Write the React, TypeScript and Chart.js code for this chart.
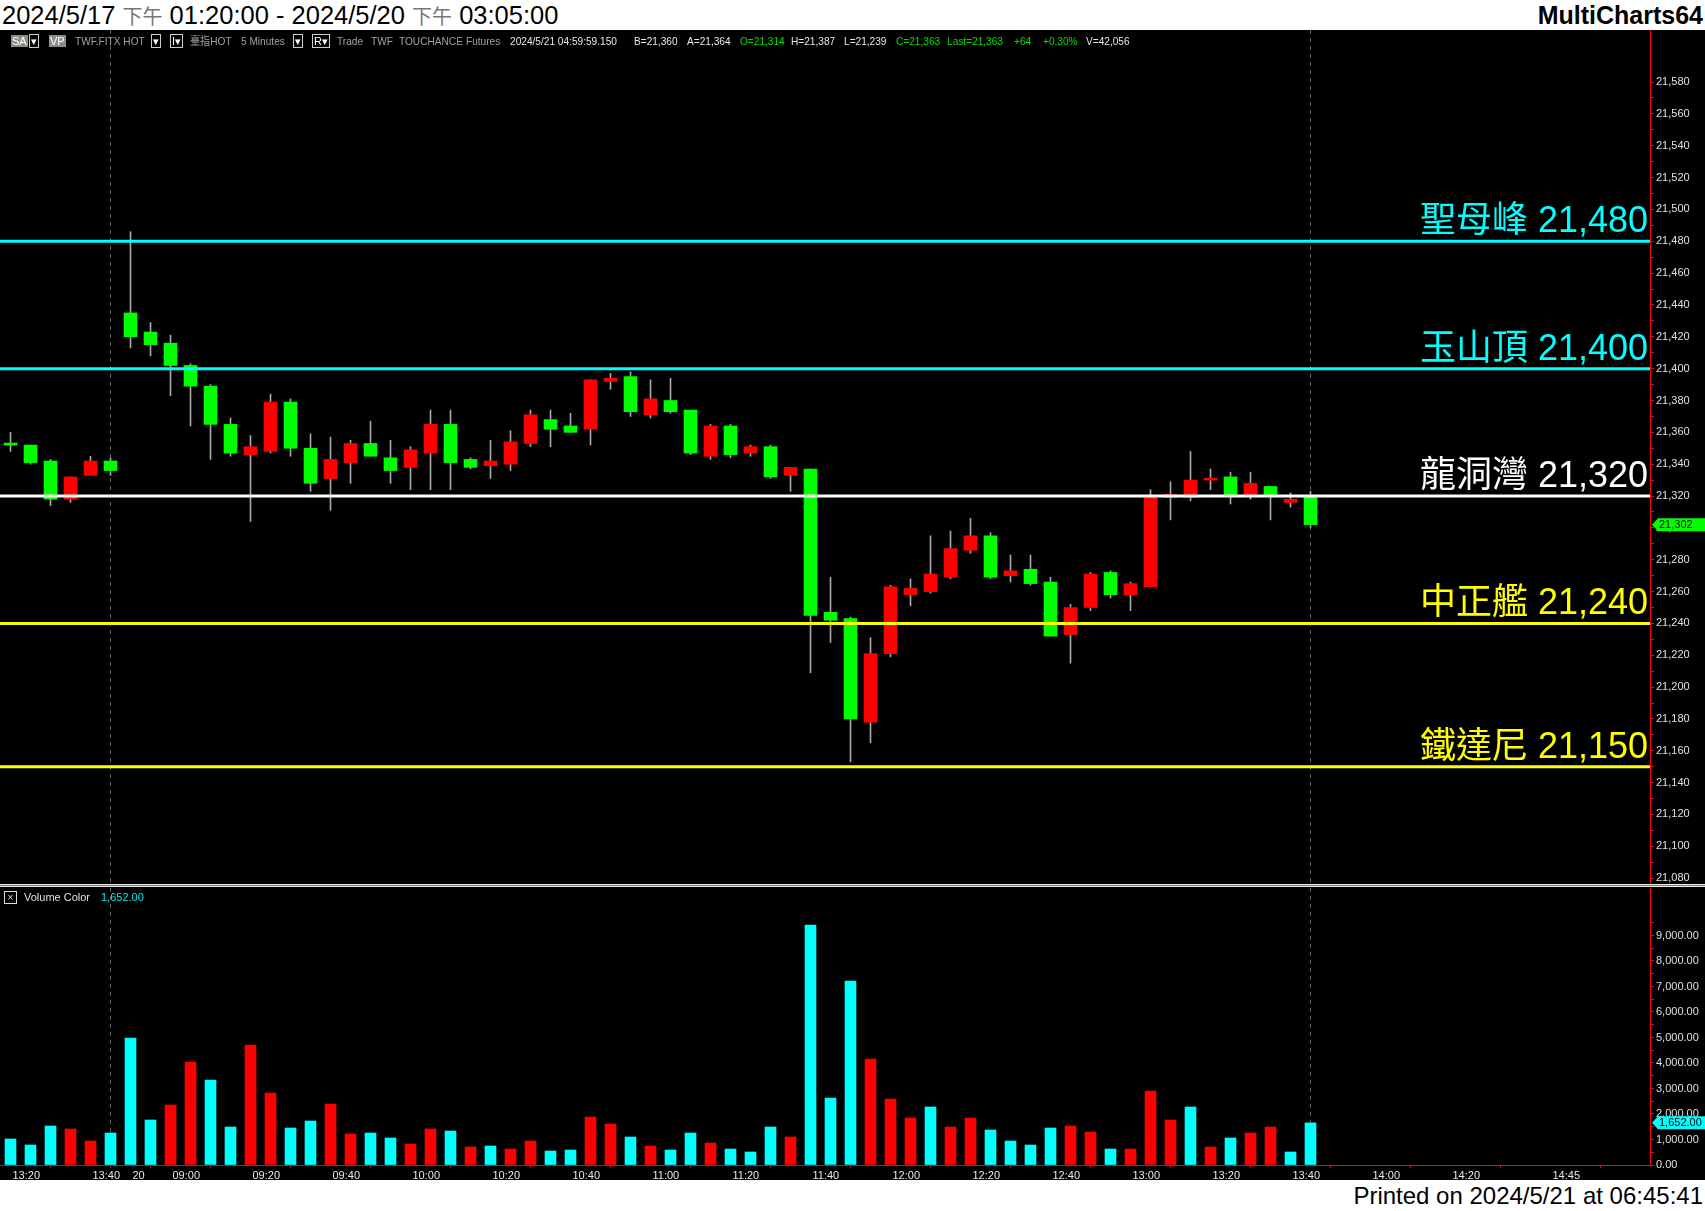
import React, { useEffect, useRef } from 'react';
import { Chart, registerables } from 'chart.js';

Chart.register(...registerables);

// ---------------- data ----------------
const opens = [
  21353, 21352, 21342, 21318, 21333, 21342,
  21435, 21423, 21416, 21402, 21389, 21365, 21346, 21348, 21379, 21350, 21331, 21341, 21353, 21344, 21338,
  21347, 21365, 21343, 21339, 21340, 21353, 21368, 21364, 21362, 21392, 21395, 21371, 21380, 21374, 21345, 21364, 21347, 21351, 21333, 21337, 21247, 21243, 21178, 21221,
  21258, 21260, 21269, 21286, 21295, 21270, 21274, 21266, 21233, 21250, 21272, 21258, 21263, 21319, 21319, 21330, 21332, 21320, 21326, 21316, 21320,
];
const highs = [
  21360, 21352, 21343, 21332, 21345, 21344,
  21486, 21429, 21421, 21403, 21390, 21369, 21358, 21384, 21381, 21359, 21357, 21355, 21367, 21355, 21351,
  21374, 21374, 21344, 21355, 21361, 21374, 21374, 21372, 21393, 21397, 21398, 21393, 21394, 21374, 21365, 21365, 21352, 21352, 21338, 21337, 21269, 21244, 21231, 21264,
  21268, 21295, 21298, 21306, 21297, 21283, 21283, 21269, 21252, 21272, 21273, 21266, 21324, 21329, 21348, 21337, 21335, 21335, 21326, 21322, 21323,
];
const lows = [
  21348, 21340, 21314, 21316, 21333, 21333,
  21413, 21408, 21383, 21364, 21343, 21345, 21304, 21347, 21345, 21323, 21311, 21328, 21345, 21328, 21324,
  21324, 21324, 21337, 21331, 21336, 21351, 21351, 21360, 21352, 21387, 21370, 21369, 21372, 21346, 21343, 21344, 21345, 21331, 21323, 21209, 21228, 21153, 21165, 21219,
  21251, 21259, 21268, 21284, 21268, 21266, 21264, 21232, 21215, 21248, 21256, 21248, 21263, 21305, 21317, 21324, 21315, 21318, 21305, 21313, 21300,
];
const closes = [
  21352, 21341, 21318, 21332, 21342, 21336,
  21420, 21415, 21402, 21389, 21365, 21347, 21351, 21379, 21350, 21328, 21343, 21353, 21345, 21336, 21349,
  21365, 21341, 21338, 21342, 21354, 21371, 21362, 21360, 21393, 21394, 21373, 21381, 21373, 21347, 21364, 21346, 21351, 21332, 21338, 21245, 21242, 21180, 21221, 21263,
  21262, 21271, 21287, 21295, 21269, 21273, 21265, 21232, 21250, 21271, 21258, 21265, 21320, 21321, 21330, 21331, 21320, 21328, 21321, 21318, 21302,
];
const volumes = [
  1020, 784, 1529, 1412, 941, 1255,
  4980, 1765, 2353, 4039, 3333, 1490, 4706, 2824, 1451, 1725, 2392, 1216, 1255, 1059, 824,
  1412, 1333, 706, 745, 627, 941, 549, 588, 1882, 1608, 1098, 745, 588, 1255, 863, 627, 510, 1490, 1098, 9412, 2627, 7216, 4157, 2588,
  1843, 2275, 1490, 1843, 1373, 941, 784, 1451, 1529, 1294, 627, 627, 2902, 1765, 2275, 706, 1059, 1255, 1490, 510, 1652,
];
// 1 = up (red), 0 = down (cyan)
const volumeUp = [
  0, 0, 0, 1, 1, 0,
  0, 0, 1, 1, 0, 0, 1, 1, 0, 0, 1, 1, 0, 0, 1,
  1, 0, 1, 0, 1, 1, 0, 0, 1, 1, 0, 1, 0, 0, 1, 0, 0, 0, 1, 0, 0, 0, 1, 1,
  1, 0, 1, 1, 0, 0, 0, 0, 1, 1, 0, 1, 1, 1, 0, 1, 0, 1, 1, 0, 0,
];
const timeTickSlots = [0, 4, 6, 8, 12, 16, 20, 24, 28, 32, 36, 40, 44, 48, 52, 56, 60, 64, 68, 72, 77];
const timeTickLabels = ['13:20', '13:40', '20', '09:00', '09:20', '09:40', '10:00', '10:20', '10:40', '11:00', '11:20', '11:40', '12:00', '12:20', '12:40', '13:00', '13:20', '13:40', '14:00', '14:20', '14:45'];
const sessionBreakSlots = [5, 65];
const levelNames = ['聖母峰', '玉山頂', '龍洞灣', '中正艦', '鐵達尼'];
const levelValues = [21480, 21400, 21320, 21240, 21150];
const levelColors = ['#00FFFF', '#00FFFF', '#FFFFFF', '#FFFF00', '#FFFF00'];
const priceTickFirst = 21080;
const priceTickLast = 21580;
const volumeTickLast = 9500;
const lastPrice = 21302;
const lastVolume = 1652;

// ---------------- layout ----------------
const W = 1705;
const AXIS_W = 55;
const X_MIN = -0.525;
const X_MAX = 81.975;
const P_MIN = 21075.7;
const P_MAX = 21612.7;
const V_MAX = 10862.7;
const RED = '#FF0000';
const GREEN = '#00FF00';
const CYAN = '#00FFFF';
const WICK = '#A8A8A8';
const FONT = '"Liberation Sans", Arial, sans-serif';

Chart.defaults.font.family = FONT;

const fmt = (v: number) => String(Math.round(v)).replace(/\B(?=(\d{3})+(?!\d))/g, ',');
const fmt2 = (v: number) => fmt(Math.floor(v)) + '.' + (v.toFixed(2).split('.')[1]);

const sessionPlugin = {
  id: 'sessionLines',
  beforeDatasetsDraw(chart: any) {
    const { ctx, chartArea } = chart;
    const xs = chart.scales.x;
    ctx.save();
    ctx.strokeStyle = '#5f5f5f';
    ctx.lineWidth = 1;
    ctx.setLineDash([4, 4]);
    sessionBreakSlots.forEach((s) => {
      const x = Math.floor(xs.getPixelForValue(s)) + 0.5;
      ctx.beginPath();
      ctx.moveTo(x, chartArea.top);
      ctx.lineTo(x, chartArea.bottom);
      ctx.stroke();
    });
    ctx.restore();
  },
};

const levelLabelPlugin = {
  id: 'levelLabels',
  afterDatasetsDraw(chart: any) {
    const { ctx, chartArea } = chart;
    const ys = chart.scales.y;
    ctx.save();
    ctx.font = `36px "Liberation Sans", "Noto Sans CJK TC", sans-serif`;
    ctx.textAlign = 'right';
    ctx.textBaseline = 'alphabetic';
    levelValues.forEach((v, i) => {
      const y = ys.getPixelForValue(v);
      ctx.fillStyle = levelColors[i];
      ctx.fillText(`${levelNames[i]} ${fmt(v)}`, chartArea.right - 2, y - 9);
    });
    ctx.restore();
  },
};

const makeTagPlugin = (value: number, text: string, color: string) => ({
  id: 'tag',
  afterDraw(chart: any) {
    const { ctx, chartArea } = chart;
    const y = chart.scales.y.getPixelForValue(value);
    const x0 = chartArea.right;
    ctx.save();
    ctx.fillStyle = color;
    ctx.beginPath();
    ctx.moveTo(x0 + 2, y);
    ctx.lineTo(x0 + 8, y - 6.5);
    ctx.lineTo(chart.width, y - 6.5);
    ctx.lineTo(chart.width, y + 6.5);
    ctx.lineTo(x0 + 8, y + 6.5);
    ctx.closePath();
    ctx.fill();
    ctx.fillStyle = '#000';
    ctx.font = `11px ${FONT}`;
    ctx.textAlign = 'left';
    ctx.textBaseline = 'middle';
    ctx.fillText(text, x0 + 9, y + 0.5);
    ctx.restore();
  },
});

const slots = opens.map((_, i) => i);

function priceConfig(): any {
  const bodyColors = slots.map((i) => (closes[i] > opens[i] ? RED : GREEN));
  return {
    type: 'bar',
    data: {
      datasets: [
        {
          type: 'bar',
          data: slots.map((i) => ({ x: i, y: [lows[i], highs[i]] })),
          backgroundColor: WICK,
          barThickness: 1,
          grouped: false,
          order: 3,
        },
        {
          type: 'bar',
          data: slots.map((i) => ({ x: i, y: [Math.min(opens[i], closes[i]), Math.max(opens[i], closes[i])] })),
          backgroundColor: bodyColors,
          barThickness: 13,
          minBarLength: 2,
          grouped: false,
          order: 2,
        },
        ...levelValues.map((v, i) => ({
          type: 'line',
          data: [{ x: X_MIN, y: v }, { x: X_MAX, y: v }],
          borderColor: levelColors[i],
          borderWidth: 3,
          pointRadius: 0,
          order: 1,
        })),
      ],
    },
    options: {
      animation: false,
      responsive: false,
      maintainAspectRatio: false,
      layout: { padding: 0 },
      plugins: { legend: { display: false }, tooltip: { enabled: false } },
      scales: {
        x: { type: 'linear', min: X_MIN, max: X_MAX, offset: false, bounds: 'data', display: false },
        y: {
          type: 'linear',
          position: 'right',
          min: P_MIN,
          max: P_MAX,
          bounds: 'data',
          afterBuildTicks: (s: any) => {
            const t = [];
            for (let v = priceTickFirst; v <= priceTickLast; v += 10) t.push({ value: v });
            s.ticks = t;
          },
          afterFit: (s: any) => {
            s.width = AXIS_W;
            s.paddingTop = 0;
            s.paddingBottom = 0;
          },
          ticks: {
            autoSkip: false,
            color: '#E0E0E0',
            font: { size: 11 },
            padding: 2,
            callback: (v: number) => (v % 20 === 0 ? fmt(v) : ''),
          },
          grid: { drawOnChartArea: false, color: RED, tickColor: RED, tickLength: 4 },
          border: { color: RED, width: 1 },
        },
      },
    },
    plugins: [sessionPlugin, levelLabelPlugin, makeTagPlugin(lastPrice, fmt(lastPrice), GREEN)],
  };
}

function volumeConfig(): any {
  return {
    type: 'bar',
    data: {
      datasets: [
        {
          data: slots.map((i) => ({ x: i, y: volumes[i] })),
          backgroundColor: slots.map((i) => (volumeUp[i] ? RED : CYAN)),
          barThickness: 11,
          grouped: false,
        },
      ],
    },
    options: {
      animation: false,
      responsive: false,
      maintainAspectRatio: false,
      layout: { padding: { top: 1, left: 0, right: 0, bottom: 0 } },
      plugins: { legend: { display: false }, tooltip: { enabled: false } },
      scales: {
        x: {
          type: 'linear',
          min: X_MIN,
          max: X_MAX,
          offset: false,
          bounds: 'data',
          position: 'bottom',
          afterBuildTicks: (s: any) => {
            s.ticks = timeTickSlots.map((v) => ({ value: v }));
          },
          afterFit: (s: any) => {
            s.height = 15;
            s.paddingLeft = 0;
            s.paddingRight = 0;
          },
          ticks: {
            autoSkip: false,
            maxRotation: 0,
            minRotation: 0,
            align: 'start',
            labelOffset: 2,
            padding: 1,
            color: '#E8E8E8',
            font: { size: 11 },
            callback: (_v: number, idx: number) => timeTickLabels[idx],
          },
          grid: { drawOnChartArea: false, color: RED, tickColor: RED, tickLength: 3 },
          border: { color: RED, width: 1 },
        },
        y: {
          type: 'linear',
          position: 'right',
          min: 0,
          max: V_MAX,
          bounds: 'data',
          afterBuildTicks: (s: any) => {
            const t = [];
            for (let v = 0; v <= volumeTickLast; v += 500) t.push({ value: v });
            s.ticks = t;
          },
          afterFit: (s: any) => {
            s.width = AXIS_W;
            s.paddingTop = 0;
            s.paddingBottom = 0;
          },
          ticks: {
            autoSkip: false,
            color: '#E0E0E0',
            font: { size: 11 },
            padding: 2,
            callback: (v: number) => (v % 1000 === 0 ? fmt2(v) : ''),
          },
          grid: { drawOnChartArea: false, color: RED, tickColor: RED, tickLength: 4 },
          border: { color: RED, width: 1 },
        },
      },
    },
    plugins: [sessionPlugin, makeTagPlugin(lastVolume, fmt2(lastVolume), CYAN)],
  };
}

const toolbarItems: { x: number; text: string; color: string; box?: string }[] = [
  { x: 11, text: 'SA', color: '#fff', box: '#8c8c8c' },
  { x: 30, text: '▾', color: '#fff', box: 'outline' },
  { x: 49, text: 'VP', color: '#fff', box: '#8c8c8c' },
  { x: 75, text: 'TWF.FITX HOT', color: '#A0A0A0' },
  { x: 152, text: '▾', color: '#fff', box: 'outline' },
  { x: 171, text: 'I▾', color: '#fff', box: 'outline' },
  { x: 190, text: '臺指HOT', color: '#A0A0A0' },
  { x: 241, text: '5 Minutes', color: '#A0A0A0' },
  { x: 294, text: '▾', color: '#fff', box: 'outline' },
  { x: 313, text: 'R▾', color: '#fff', box: 'outline' },
  { x: 337, text: 'Trade', color: '#A0A0A0' },
  { x: 371, text: 'TWF', color: '#A0A0A0' },
  { x: 399, text: 'TOUCHANCE', color: '#A0A0A0' },
  { x: 466, text: 'Futures', color: '#A0A0A0' },
  { x: 510, text: '2024/5/21 04:59:59.150', color: '#E8E8E8' },
  { x: 634, text: 'B=21,360', color: '#E8E8E8' },
  { x: 687, text: 'A=21,364', color: '#E8E8E8' },
  { x: 740, text: 'O=21,314', color: '#00E000' },
  { x: 791, text: 'H=21,387', color: '#E8E8E8' },
  { x: 844, text: 'L=21,239', color: '#E8E8E8' },
  { x: 896, text: 'C=21,363', color: '#00E000' },
  { x: 947, text: 'Last=21,363', color: '#00E000' },
  { x: 1014, text: '+64', color: '#00E000' },
  { x: 1043, text: '+0.30%', color: '#00E000' },
  { x: 1086, text: 'V=42,056', color: '#E8E8E8' },
];

export default function App() {
  const priceRef = useRef<HTMLCanvasElement>(null);
  const volRef = useRef<HTMLCanvasElement>(null);

  useEffect(() => {
    document.body.style.margin = '0';
    const pc = new Chart(priceRef.current as HTMLCanvasElement, priceConfig());
    const vc = new Chart(volRef.current as HTMLCanvasElement, volumeConfig());
    return () => {
      pc.destroy();
      vc.destroy();
    };
  }, []);

  const cjk = { fontFamily: '"Noto Sans CJK TC", sans-serif', fontSize: 20, color: '#777' };

  return (
    <div style={{ position: 'relative', width: W, height: 1211, background: '#fff', overflow: 'hidden', fontFamily: FONT }}>
      <div style={{ position: 'absolute', left: 2, top: 0, height: 30, lineHeight: '31px', fontSize: 25.5, color: '#000', whiteSpace: 'nowrap' }}>
        2024/5/17 <span style={cjk}>下午</span> 01:20:00 - 2024/5/20 <span style={cjk}>下午</span> 03:05:00
      </div>
      <div style={{ position: 'absolute', right: 2, top: 0, height: 30, lineHeight: '31px', fontSize: 25, fontWeight: 'bold', color: '#000' }}>
        MultiCharts64
      </div>
      <div style={{ position: 'absolute', left: 0, top: 30, width: W, height: 1150, background: '#000' }} />
      <canvas ref={priceRef} width={W} height={855} style={{ position: 'absolute', left: 0, top: 30, display: 'block' }} />
      <canvas ref={volRef} width={W} height={293} style={{ position: 'absolute', left: 0, top: 887, display: 'block' }} />
      <div style={{ position: 'absolute', left: 0, top: 884, width: W, height: 1, background: '#E8E8E8' }} />
      <div style={{ position: 'absolute', left: 0, top: 885, width: W, height: 1, background: '#808080' }} />
      <div style={{ position: 'absolute', left: 0, top: 886, width: W, height: 1, background: '#E8E8E8' }} />
      {toolbarItems.map((it, k) => (
        <div
          key={k}
          style={{
            position: 'absolute',
            left: it.x,
            top: 35,
            height: 12,
            lineHeight: '12px',
            fontSize: 11,
            color: it.color,
            whiteSpace: 'pre',
            padding: it.box ? '0 1px' : 0,
            background: it.box && it.box !== 'outline' ? it.box : 'transparent',
            outline: it.box === 'outline' ? '1px solid #ccc' : 'none',
            transform: it.box ? 'none' : 'scaleX(0.92)',
            transformOrigin: 'left center',
            fontFamily: it.text.includes('臺') ? '"Liberation Sans", "Noto Sans CJK TC", sans-serif' : FONT,
          }}
        >
          {it.text}
        </div>
      ))}
      <div style={{ position: 'absolute', left: 4, top: 891, width: 11, height: 11, border: '1px solid #ddd', color: '#ddd', fontSize: 10, lineHeight: '11px', textAlign: 'center' }}>
        ×
      </div>
      <div style={{ position: 'absolute', left: 24, top: 891, fontSize: 11, lineHeight: '13px', color: '#E0E0E0' }}>Volume Color</div>
      <div style={{ position: 'absolute', left: 101, top: 891, fontSize: 11, lineHeight: '13px', color: '#00E5EE' }}>{fmt2(lastVolume)}</div>
      <div style={{ position: 'absolute', right: 2, top: 1181, height: 30, lineHeight: '30px', fontSize: 24, color: '#000', whiteSpace: 'nowrap' }}>
        Printed on 2024/5/21 at 06:45:41
      </div>
    </div>
  );
}
